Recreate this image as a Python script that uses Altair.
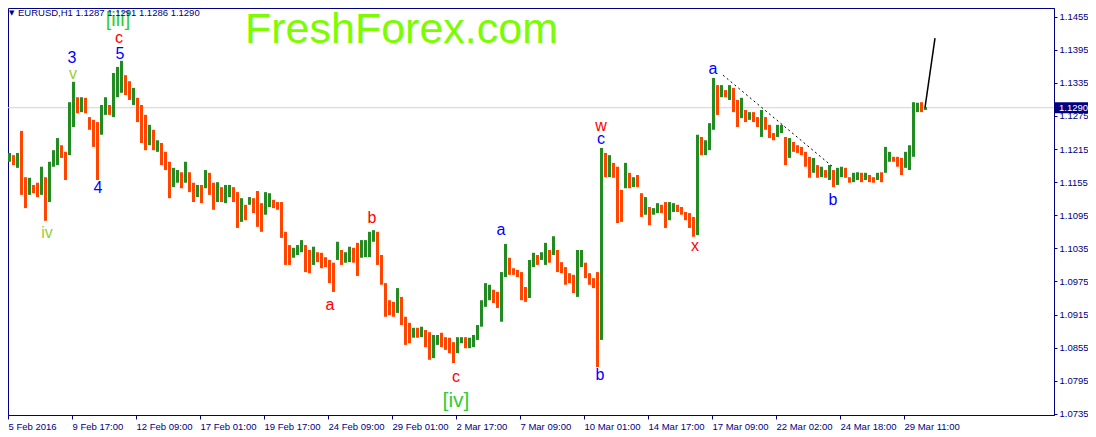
import json
import altair as alt
import pandas as pd

# ---------------- data (EURUSD, aggregated 4h bars) ----------------
highs = [
    1.1208, 1.1204, 1.1208, 1.1248, 1.1164, 1.1163, 1.1150, 1.1154, 1.1183, 1.1164,
    1.1192, 1.1213, 1.1235, 1.1222, 1.1210, 1.1300, 1.1337, 1.1309, 1.1309, 1.1308,
    1.1273, 1.1268, 1.1264, 1.1295, 1.1309, 1.1295, 1.1353, 1.1364, 1.1375, 1.1349,
    1.1338, 1.1326, 1.1308, 1.1295, 1.1277, 1.1259, 1.1250, 1.1231, 1.1226, 1.1210,
    1.1192, 1.1181, 1.1177, 1.1173, 1.1192, 1.1173, 1.1154, 1.1150, 1.1150, 1.1177,
    1.1172, 1.1154, 1.1155, 1.1146, 1.1150, 1.1150, 1.1146, 1.1137, 1.1126, 1.1114,
    1.1128, 1.1126, 1.1139, 1.1117, 1.1137, 1.1135, 1.1123, 1.1119, 1.1119, 1.1065,
    1.1041, 1.1036, 1.1041, 1.1050, 1.1041, 1.1032, 1.1038, 1.1028, 1.1027, 1.1019,
    1.1014, 1.1009, 1.1047, 1.1032, 1.1028, 1.1038, 1.1036, 1.1045, 1.1050, 1.1050,
    1.1065, 1.1068, 1.1065, 1.1023, 1.0972, 1.0941, 1.0938, 1.0963, 1.0947, 1.0911,
    1.0900, 1.0891, 1.0891, 1.0893, 1.0887, 1.0883, 1.0878, 1.0878, 1.0882, 1.0874,
    1.0873, 1.0865, 1.0874, 1.0874, 1.0874, 1.0873, 1.0878, 1.0896, 1.0941, 1.0972,
    1.0969, 1.0960, 1.0956, 1.0992, 1.1043, 1.1018, 1.0999, 1.0996, 1.0992, 1.0965,
    1.1014, 1.1027, 1.1023, 1.1028, 1.1045, 1.1032, 1.1057, 1.1032, 1.1010, 1.1001,
    1.0990, 1.0987, 1.1032, 1.1032, 1.1009, 1.0990, 1.0981, 1.0992, 1.1217, 1.1208,
    1.1204, 1.1190, 1.1183, 1.1141, 1.1190, 1.1172, 1.1164, 1.1168, 1.1135, 1.1128,
    1.1110, 1.1108, 1.1117, 1.1114, 1.1119, 1.1119, 1.1117, 1.1114, 1.1110, 1.1101,
    1.1099, 1.1092, 1.1241, 1.1237, 1.1231, 1.1262, 1.1344, 1.1331, 1.1331, 1.1322,
    1.1331, 1.1326, 1.1304, 1.1308, 1.1286, 1.1282, 1.1282, 1.1273, 1.1286, 1.1273,
    1.1259, 1.1244, 1.1259, 1.1259, 1.1237, 1.1235, 1.1228, 1.1222, 1.1219, 1.1210,
    1.1201, 1.1199, 1.1186, 1.1183, 1.1177, 1.1186, 1.1177, 1.1181, 1.1183, 1.1181,
    1.1164, 1.1172, 1.1173, 1.1172, 1.1172, 1.1168, 1.1164, 1.1172, 1.1173, 1.1219,
    1.1210, 1.1201, 1.1201, 1.1199, 1.1210, 1.1222, 1.1300, 1.1299, 1.1300, 1.1291,
]
lows = [
    1.1192, 1.1186, 1.1181, 1.1132, 1.1108, 1.1132, 1.1135, 1.1128, 1.1132, 1.1085,
    1.1119, 1.1183, 1.1186, 1.1199, 1.1159, 1.1204, 1.1255, 1.1280, 1.1282, 1.1280,
    1.1250, 1.1219, 1.1159, 1.1241, 1.1277, 1.1277, 1.1273, 1.1309, 1.1317, 1.1313,
    1.1304, 1.1295, 1.1264, 1.1226, 1.1213, 1.1222, 1.1213, 1.1210, 1.1186, 1.1177,
    1.1126, 1.1146, 1.1154, 1.1144, 1.1154, 1.1137, 1.1119, 1.1128, 1.1117, 1.1144,
    1.1132, 1.1105, 1.1119, 1.1119, 1.1117, 1.1128, 1.1119, 1.1072, 1.1083, 1.1086,
    1.1114, 1.1099, 1.1074, 1.1065, 1.1096, 1.1110, 1.1108, 1.1105, 1.1054, 1.1005,
    1.1005, 1.1018, 1.1023, 1.1028, 1.0992, 1.0990, 1.1005, 1.1010, 1.0999, 1.1001,
    1.0972, 1.0956, 1.1014, 1.1005, 1.1009, 1.1010, 1.1009, 1.0985, 1.1018, 1.1019,
    1.1019, 1.1047, 1.1005, 1.0969, 1.0911, 1.0914, 1.0911, 1.0918, 1.0896, 1.0860,
    1.0863, 1.0873, 1.0873, 1.0874, 1.0856, 1.0833, 1.0836, 1.0860, 1.0856, 1.0851,
    1.0845, 1.0827, 1.0845, 1.0863, 1.0854, 1.0854, 1.0856, 1.0869, 1.0893, 1.0929,
    1.0941, 1.0936, 1.0927, 1.0902, 1.0983, 1.0987, 1.0987, 1.0983, 1.0941, 1.0938,
    1.0945, 1.1001, 1.1005, 1.1014, 1.1005, 1.1009, 1.1023, 1.0992, 1.0990, 1.0969,
    1.0972, 1.0954, 1.0947, 1.1001, 1.0981, 1.0969, 1.0963, 1.0820, 1.0869, 1.1164,
    1.1164, 1.1163, 1.1081, 1.1083, 1.1144, 1.1144, 1.1146, 1.1146, 1.1092, 1.1096,
    1.1077, 1.1096, 1.1099, 1.1099, 1.1072, 1.1086, 1.1101, 1.1101, 1.1096, 1.1086,
    1.1072, 1.1056, 1.1059, 1.1204, 1.1204, 1.1213, 1.1250, 1.1277, 1.1309, 1.1309,
    1.1304, 1.1282, 1.1255, 1.1271, 1.1264, 1.1268, 1.1264, 1.1255, 1.1237, 1.1250,
    1.1235, 1.1231, 1.1237, 1.1244, 1.1186, 1.1199, 1.1210, 1.1208, 1.1204, 1.1183,
    1.1163, 1.1172, 1.1163, 1.1164, 1.1163, 1.1159, 1.1146, 1.1150, 1.1164, 1.1163,
    1.1154, 1.1155, 1.1159, 1.1155, 1.1159, 1.1155, 1.1154, 1.1159, 1.1155, 1.1172,
    1.1192, 1.1192, 1.1183, 1.1168, 1.1181, 1.1177, 1.1201, 1.1282, 1.1282, 1.1286,
]
directions = list(
    "ududduddud" "uuudduudud" "ddduuduuud" "dudddududd" "duududdudu"
    "dduduuddud" "uddduudddd" "duuudduddd" "dduduudduu" "uudddddudd"
    "dududduudd" "dduuduuuuu" "udduuddddd" "uuduududdd" "dduuddddud"
    "udddududdu" "duudduuddd" "dduduuudud" "uddududdud" "dduududddd"
    "dudududuud" "duududdudu" "uddduuuudu"
)

x_tick_labels = ["5 Feb 2016", "9 Feb 17:00", "12 Feb 09:00", "17 Feb 01:00", "19 Feb 17:00",
                 "24 Feb 09:00", "29 Feb 01:00", "2 Mar 17:00", "7 Mar 09:00", "10 Mar 01:00",
                 "14 Mar 17:00", "17 Mar 09:00", "22 Mar 02:00", "24 Mar 18:00", "29 Mar 11:00"]
x_tick_index = [0, 16, 32, 48, 64, 80, 96, 112, 128, 144, 160, 176, 192, 208, 224]
price_ticks = [1.0735, 1.0795, 1.0855, 1.0915, 1.0975, 1.1035, 1.1095, 1.1155,
               1.1215, 1.1275, 1.1335, 1.1395, 1.1455]

current_price = 1.1290
header = "EURUSD,H1  1.1287 1.1291 1.1286 1.1290"
watermark = "FreshForex.com"

wave_text = ["[iii]", "c", "5", "3", "v", "4", "iv", "b", "a", "c", "[iv]",
             "a", "b", "w", "c", "x", "a", "b"]
wave_index = [27.5, 27.75, 28.0, 16.0, 16.25, 22.5, 9.75, 91.0, 80.5, 112.0, 112.0,
              123.25, 148.0, 148.25, 148.25, 171.75, 176.25, 206.25]
wave_price = [1.1449, 1.1416, 1.1387, 1.1380, 1.1351, 1.1144, 1.1063, 1.1090, 1.0932,
              1.0802, 1.0758, 1.1068, 1.0805, 1.1257, 1.1233, 1.1039, 1.1360, 1.1123]
wave_kind = ["major", "red", "blue", "blue", "minor", "blue", "minor", "red", "red",
             "red", "major", "blue", "blue", "red", "blue", "red", "blue", "blue"]
wave_size = [20, 16, 16, 16, 16, 16, 16, 16, 16, 16, 21, 16, 16, 16, 16, 16, 16, 16]

trend_index = [178.75, 206.5]
trend_price = [1.1349, 1.1181]
arrow_index = [229.25, 231.75]
arrow_price = [1.1290, 1.1416]

# ---------------- styling ----------------
NAVY = "#000080"
FONT = "Liberation Sans"
DIR_COLORS = {"u": "#228B22", "d": "#FF4500"}
KIND_COLORS = {"blue": "#0000FF", "red": "#FF0000", "minor": "#9ACD32", "major": "#32CD32"}
X_DOMAIN = [0, 261.5]
Y_DOMAIN = [1.07329, 1.14708]
xs = alt.Scale(domain=X_DOMAIN, nice=False, zero=False)
ys = alt.Scale(domain=Y_DOMAIN, nice=False, zero=False)

bars = pd.DataFrame({"i": list(range(len(highs))), "high": highs, "low": lows,
                     "dir": directions[:len(highs)]})
bars["i2"] = bars["i"] + 0.75
bars["col"] = bars["dir"].map(DIR_COLORS)

label_expr = json.dumps(x_tick_labels) + "[round(datum.value / 16)]"

x_axis = alt.Axis(values=x_tick_index, labelExpr=label_expr, labelAlign="left",
                  labelBaseline="top", labelPadding=2, tickSize=4,
                  labelFontSize=9.5, labelFont=FONT, labelColor=NAVY, domainColor=NAVY,
                  tickColor=NAVY, grid=False, title=None, labelOverlap=False,
                  labelFlush=False)
y_axis = alt.Axis(values=price_ticks, format=".4f", orient="right", labelAlign="left",
                  labelBaseline="middle", labelPadding=2, tickSize=3, labelFontSize=9.5,
                  labelFont=FONT, labelColor=NAVY, domainColor=NAVY, tickColor=NAVY,
                  grid=False, title=None, labelOverlap=False, labelFlush=False)


def X(field):
    return alt.X(field, scale=xs, axis=x_axis)


def Y(field):
    return alt.Y(field, scale=ys, axis=y_axis)


price_line = alt.Chart(pd.DataFrame({"p": [current_price]})).mark_rule(
    color="#D3D3D3", strokeWidth=1
).encode(y=Y("p:Q"))

candles = alt.Chart(bars).mark_bar().encode(
    x=X("i:Q"), x2="i2:Q", y=Y("low:Q"), y2="high:Q",
    color=alt.Color("col:N", scale=None, legend=None),
)

trend = alt.Chart(pd.DataFrame({"i": trend_index, "p": trend_price})).mark_line(
    color="black", strokeWidth=1, strokeDash=[2, 3]
).encode(x=X("i:Q"), y=Y("p:Q"))

arrow = alt.Chart(pd.DataFrame({"i": arrow_index, "p": arrow_price})).mark_line(
    color="black", strokeWidth=1.5
).encode(x=X("i:Q"), y=Y("p:Q"))

wave_df = pd.DataFrame({"i": wave_index, "p": wave_price, "txt": wave_text,
                        "col": [KIND_COLORS[k] for k in wave_kind], "size": wave_size})
waves = alt.Chart(wave_df).mark_text(font=FONT, align="center", baseline="middle").encode(
    x=X("i:Q"), y=Y("p:Q"), text="txt:N",
    size=alt.Size("size:Q", scale=None, legend=None),
    color=alt.Color("col:N", scale=None, legend=None),
)

price_box = alt.Chart(pd.DataFrame({"p": [current_price]})).mark_tick(
    orient="horizontal", size=34, thickness=11, color=NAVY, opacity=1
).encode(x=alt.value(1064), y=Y("p:Q"))

price_txt = alt.Chart(pd.DataFrame({"p": [current_price], "s": [f"{current_price:.4f}"]})).mark_text(
    align="left", baseline="middle", font=FONT, fontSize=9.5, color="white"
).encode(x=alt.value(1051), y=Y("p:Q"), text="s:N")

head_tri = alt.Chart(pd.DataFrame({"s": ["\u25bc"]})).mark_text(
    align="left", baseline="middle", font="DejaVu Sans", fontSize=7, color=NAVY
).encode(x=alt.value(1), y=alt.value(5), text="s:N")

head_txt = alt.Chart(pd.DataFrame({"s": [header]})).mark_text(
    align="left", baseline="middle", font=FONT, fontSize=9.5, color=NAVY
).encode(x=alt.value(10), y=alt.value(5), text="s:N")

wm = alt.Chart(pd.DataFrame({"s": [watermark]})).mark_text(
    align="left", baseline="alphabetic", font=FONT, fontSize=43, color="#7CFC00"
).encode(x=alt.value(237), y=alt.value(35), text="s:N")

chart = alt.layer(
    price_line, candles, trend, arrow, waves, price_box, price_txt, head_tri, head_txt, wm
).resolve_scale(color="independent", size="independent").properties(
    width=1046, height=407,
    autosize=alt.AutoSizeParams(type="none"),
    padding={"left": 0, "top": 0, "right": 34, "bottom": 16},
    background="white",
).configure_view(stroke=NAVY, strokeWidth=1)

chart.save("out.html", embed_options={"renderer": "svg", "actions": False})
